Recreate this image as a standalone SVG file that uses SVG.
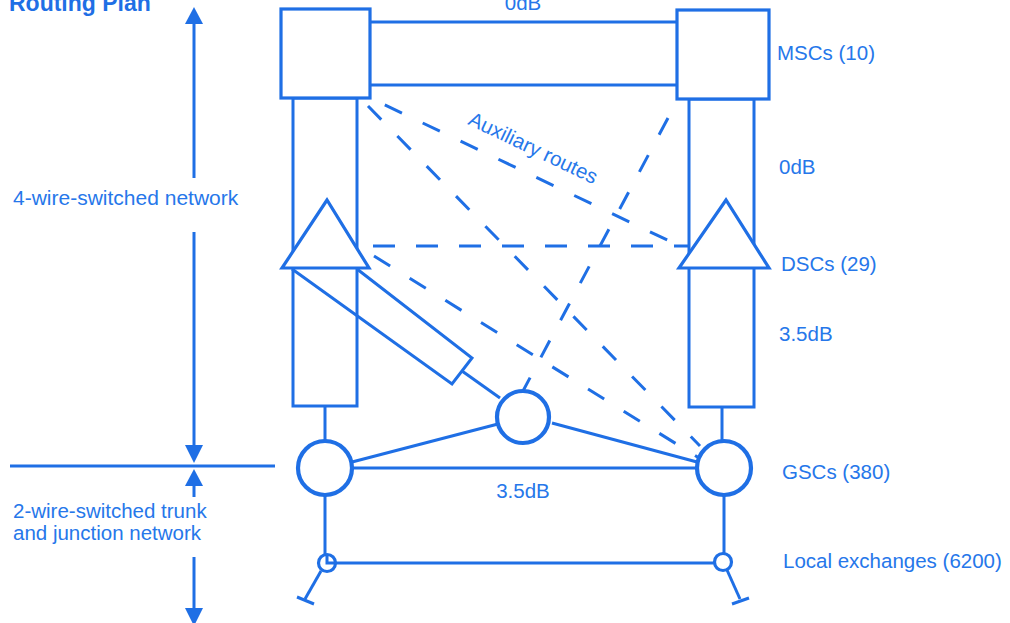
<svg xmlns="http://www.w3.org/2000/svg" width="1010" height="623" viewBox="0 0 1010 623">
<defs>
<style>
.s{fill:none;stroke:#1f6fe5;stroke-width:3;stroke-linecap:butt}
.w{fill:#fff;stroke:#1f6fe5;stroke-width:3.2;stroke-linejoin:miter}
.c{fill:#fff;stroke:#1f6fe5;stroke-width:4.2}
.d{fill:none;stroke:#1f6fe5;stroke-width:3;stroke-dasharray:19 23}
.t{font-family:"Liberation Sans",Arial,sans-serif;font-size:20.5px;fill:#2677ea}
.ar{fill:#1f6fe5}
</style>
</defs>
<rect width="1010" height="623" fill="#fff"/>
<text class="t" x="9" y="11" style="font-weight:bold;font-size:23px;fill:#1f6fe5">Routing Plan</text>

<g id="scale">
<line class="s" x1="194" y1="22" x2="194" y2="178" stroke-width="2.5"/>
<polygon class="ar" points="194,7 185,24 203,24"/>
<line class="s" x1="194" y1="232" x2="194" y2="447" stroke-width="2.5"/>
<polygon class="ar" points="194,463 185,445 203,445"/>
<line class="s" x1="10" y1="466" x2="275" y2="466" stroke-width="2.5"/>
<polygon class="ar" points="194,469 185,486 203,486"/>
<line class="s" x1="194" y1="484" x2="194" y2="497" stroke-width="2.5"/>
<line class="s" x1="194" y1="557" x2="194" y2="610" stroke-width="2.5"/>
<polygon class="ar" points="194,626 185,608 203,608"/>
<text class="t" x="13" y="205" style="font-size:21px">4-wire-switched network</text>
<text class="t" x="13" y="518">2-wire-switched trunk</text>
<text class="t" x="13" y="540">and junction network</text>
</g>

<g id="connectors">
<line class="s" x1="369" y1="22" x2="678" y2="22" stroke-width="3.5"/>
<line class="s" x1="369" y1="85" x2="678" y2="85" stroke-width="3.5"/>
<rect class="s" x="293" y="98" width="64" height="308" stroke-width="2.8"/>
<rect class="s" x="689" y="99" width="65" height="308" stroke-width="2.8"/>
<line class="s" x1="325" y1="406" x2="325" y2="441" stroke-width="2.5"/>
<line class="s" x1="722" y1="407" x2="722" y2="441" stroke-width="2.5"/>
<line class="s" x1="352" y1="468" x2="697" y2="468" stroke-width="3.2"/>
<line class="s" x1="352" y1="462" x2="498" y2="424" stroke-width="3"/>
<line class="s" x1="552" y1="423" x2="697" y2="462" stroke-width="3"/>
<line class="s" x1="325" y1="495" x2="325" y2="563" stroke-width="2.5"/>
<line class="s" x1="724" y1="495" x2="724" y2="554" stroke-width="2.5"/>
<line class="s" x1="327" y1="563" x2="715" y2="563" stroke-width="2.8"/>
<line class="s" x1="321" y1="571" x2="305" y2="599" stroke-width="2.5"/>
<line class="s" x1="297" y1="597" x2="314" y2="604" stroke-width="2.5"/>
<line class="s" x1="727" y1="570" x2="740" y2="599" stroke-width="2.5"/>
<line class="s" x1="732" y1="604" x2="749" y2="598" stroke-width="2.5"/>
<line class="d" x1="368" y1="106" x2="700" y2="446"/>
<line class="d" x1="383" y1="104" x2="686" y2="249" style="stroke-dashoffset:-2"/>
<line class="d" x1="373" y1="246" x2="690" y2="246" style="stroke-dasharray:22 21"/>
<line class="d" x1="374" y1="256" x2="699" y2="458"/>
<line class="d" x1="668" y1="118" x2="523" y2="391"/>
</g>

<g id="msc-left"><rect class="w" x="281" y="9" width="89" height="89"/></g>
<g id="msc-right"><rect class="w" x="677" y="10" width="92" height="89"/></g>
<g id="dsc-left"><polygon class="w" points="327,200 282,268 369,268"/>
<polyline class="s" points="292,269 452,384 472,358 357,269" stroke-width="2.8"/>
<line class="s" x1="462" y1="371" x2="500" y2="398" stroke-width="2.8"/></g>
<g id="dsc-right"><polygon class="w" points="726,200 679,268 769,268"/></g>
<g id="gsc-left"><circle class="c" cx="325" cy="468" r="27"/></g>
<g id="gsc-mid"><circle class="c" cx="523" cy="417" r="26"/></g>
<g id="gsc-right"><circle class="c" cx="724" cy="468" r="27"/></g>
<g id="le-left"><circle class="w" cx="327" cy="563" r="8.5" stroke-width="2.8"/>
<path class="s" d="M327 555 V563 H335" stroke-width="1.2"/></g>
<g id="le-right"><circle class="w" cx="723" cy="562" r="8.5" stroke-width="2.8"/></g>

<g id="labels">
<text class="t" x="523" y="10" text-anchor="middle">0dB</text>
<text class="t" x="777" y="60">MSCs (10)</text>
<text class="t" x="779" y="174">0dB</text>
<text class="t" x="781" y="271">DSCs (29)</text>
<text class="t" x="779" y="341">3.5dB</text>
<text class="t" x="782" y="479">GSCs (380)</text>
<text class="t" x="783" y="568">Local exchanges (6200)</text>
<text class="t" x="523" y="498" text-anchor="middle">3.5dB</text>
<text class="t" x="467" y="124" transform="rotate(25.5 467 124)">Auxiliary routes</text>
</g>
</svg>
